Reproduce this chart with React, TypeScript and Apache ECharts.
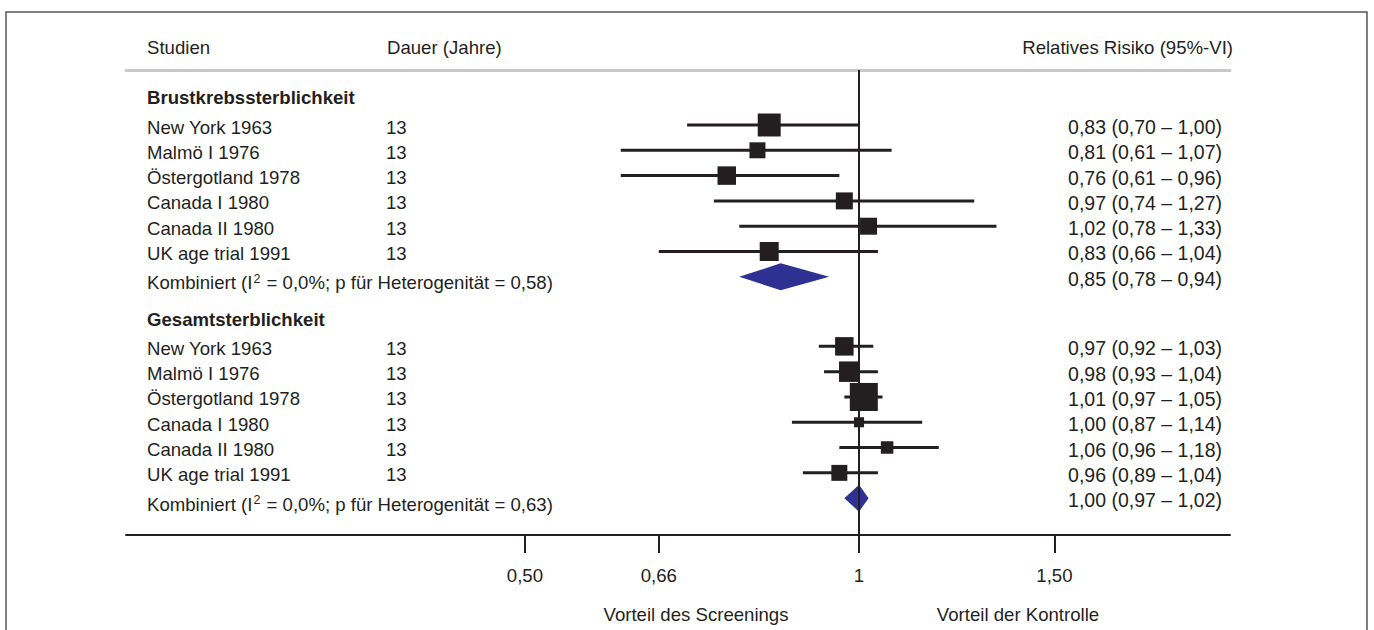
import React, { useEffect, useRef } from "react";
import * as echarts from "echarts";

// ---------- data ----------
const studies = [
  "New York 1963",
  "Malmö I 1976",
  "Östergotland 1978",
  "Canada I 1980",
  "Canada II 1980",
  "UK age trial 1991",
];
const durations = [13, 13, 13, 13, 13, 13];

const sectionTitles = ["Brustkrebssterblichkeit", "Gesamtsterblichkeit"];

const breastRR = [0.83, 0.81, 0.76, 0.97, 1.02, 0.83];
const breastLo = [0.7, 0.61, 0.61, 0.74, 0.78, 0.66];
const breastHi = [1.0, 1.07, 0.96, 1.27, 1.33, 1.04];
const breastWeight = [25.6, 12.4, 16.6, 14.0, 14.0, 17.5];
const breastPooled = [0.85, 0.78, 0.94];
const breastHet = ["0,0%", "0,58"];

const totalRR = [0.97, 0.98, 1.01, 1.0, 1.06, 0.96];
const totalLo = [0.92, 0.93, 0.97, 0.87, 0.96, 0.89];
const totalHi = [1.03, 1.04, 1.05, 1.14, 1.18, 1.04];
const totalWeight = [16.6, 20.4, 38.1, 4.9, 7.6, 12.4];
const totalPooled = [1.0, 0.97, 1.02];
const totalHet = ["0,0%", "0,63"];

const tickValues = [0.5, 0.66, 1, 1.5];
const tickLabels = ["0,50", "0,66", "1", "1,50"];

const headers = ["Studien", "Dauer (Jahre)", "Relatives Risiko (95%-VI)"];
const favourLabels = ["Vorteil des Screenings", "Vorteil der Kontrolle"];

// ---------- layout ----------
const FONT = "'Liberation Sans', Arial, Helvetica, sans-serif";
const FS = 18.6;
const FS_NUM = 19.5;
const INK = "#231f20";
const BLUE = "#2e3192";
const sectionOffset = [0, 8.75];
const X_MIN = 0.21853;
const X_MAX = 2.1591;

const fmt = (v: number) => v.toFixed(2).replace(".", ",");
const ci = (a: number[]) => `${fmt(a[0])} (${fmt(a[1])} – ${fmt(a[2])})`;

const sections = [
  { rr: breastRR, lo: breastLo, hi: breastHi, w: breastWeight, pooled: breastPooled, het: breastHet },
  { rr: totalRR, lo: totalLo, hi: totalHi, w: totalWeight, pooled: totalPooled, het: totalHet },
];

type Row = { y: number; kind: "title" | "study" | "pooled"; name: string; dur?: string; est?: string };
const rows: Row[] = [];
sections.forEach((s, si) => {
  const off = sectionOffset[si];
  rows.push({ y: off - 1.15, kind: "title", name: sectionTitles[si] });
  studies.forEach((st, i) => {
    rows.push({
      y: off + i,
      kind: "study",
      name: st,
      dur: String(durations[i]),
      est: ci([s.rr[i], s.lo[i], s.hi[i]]),
    });
  });
  rows.push({
    y: off + studies.length,
    kind: "pooled",
    name: `Kombiniert (I{sup|2} = ${s.het[0]}; p für Heterogenität = ${s.het[1]})`,
    est: ci(s.pooled),
  });
});

const studyData: number[][] = [];
sections.forEach((s, si) => {
  s.rr.forEach((rr, i) => {
    studyData.push([Math.log(rr), Math.log(s.lo[i]), Math.log(s.hi[i]), sectionOffset[si] + i, s.w[i]]);
  });
});
const pooledData = sections.map((s, si) => [
  Math.log(s.pooled[0]),
  Math.log(s.pooled[1]),
  Math.log(s.pooled[2]),
  sectionOffset[si] + studies.length,
]);

export default function App() {
  const ref = useRef<HTMLDivElement>(null);
  useEffect(() => {
    document.body.style.margin = "0";
    if (!ref.current) return;
    const chart = echarts.init(ref.current, undefined, { renderer: "svg" });
    const tickLn = tickValues.map((v) => Math.log(v));
    const textBase = { fontFamily: FONT, fontSize: FS, fill: INK };

    chart.setOption({
      animation: false,
      backgroundColor: "#ffffff",
      grid: { left: 126, right: 144, top: 70, bottom: 95, containLabel: false },
      xAxis: [
        {
          type: "value",
          position: "bottom",
          min: Math.log(X_MIN),
          max: Math.log(X_MAX),
          splitLine: { show: false },
          axisLine: { show: true, onZero: false, lineStyle: { color: INK, width: 2 } },
          axisTick: { show: true, customValues: tickLn, length: 18, inside: false, lineStyle: { color: INK, width: 2 } },
          axisLabel: {
            customValues: tickLn,
            margin: 31,
            fontSize: FS,
            fontFamily: FONT,
            color: INK,
            formatter: (val: number) => {
              const idx = tickLn.findIndex((t) => Math.abs(t - val) < 1e-6);
              return idx >= 0 ? tickLabels[idx] : "";
            },
          },
        },
        {
          type: "value",
          position: "top",
          min: Math.log(X_MIN),
          max: Math.log(X_MAX),
          splitLine: { show: false },
          axisLine: { show: true, onZero: false, lineStyle: { color: "#c8c8c8", width: 3 } },
          axisTick: { show: false },
          axisLabel: { show: false },
        },
      ],
      yAxis: { type: "value", inverse: true, min: -2.174, max: 16.206, show: false },
      graphic: [
        {
          type: "rect",
          shape: { x: 6, y: 12, width: 1361, height: 640 },
          style: { fill: "none", stroke: "#555555", lineWidth: 1.5 },
          z: 0,
        },
        { type: "text", x: 147, y: 47, style: { ...textBase, text: headers[0], align: "left", verticalAlign: "middle" } },
        { type: "text", x: 387, y: 47, style: { ...textBase, text: headers[1], align: "left", verticalAlign: "middle" } },
        { type: "text", x: 1233, y: 47, style: { ...textBase, text: headers[2], align: "right", verticalAlign: "middle" } },
        { type: "text", x: 696, y: 614, style: { ...textBase, text: favourLabels[0], align: "center", verticalAlign: "middle" } },
        { type: "text", x: 1018, y: 614, style: { ...textBase, text: favourLabels[1], align: "center", verticalAlign: "middle" } },
      ],
      series: [
        {
          type: "line",
          data: [],
          z: 1,
          markLine: {
            silent: true,
            symbol: ["none", "none"],
            label: { show: false },
            lineStyle: { color: INK, width: 2, type: "solid" },
            data: [{ xAxis: 0 }],
          },
        },
        {
          type: "custom",
          z: 3,
          data: studyData,
          encode: { x: [0, 1, 2], y: 3 },
          renderItem: (params: any, api: any) => {
            const y = api.value(3);
            const c = api.coord([api.value(0), y]);
            const lo = api.coord([api.value(1), y]);
            const hi = api.coord([api.value(2), y]);
            const s = 4.54 * Math.sqrt(api.value(4));
            return {
              type: "group",
              children: [
                {
                  type: "line",
                  shape: { x1: lo[0], y1: lo[1], x2: hi[0], y2: hi[1] },
                  style: { stroke: INK, lineWidth: 3 },
                },
                {
                  type: "rect",
                  shape: { x: c[0] - s / 2, y: c[1] - s / 2, width: s, height: s },
                  style: { fill: INK },
                },
              ],
            };
          },
        },
        {
          type: "custom",
          z: 3,
          data: pooledData,
          encode: { x: [0, 1, 2], y: 3 },
          renderItem: (params: any, api: any) => {
            const y = api.value(3);
            const c = api.coord([api.value(0), y]);
            const lo = api.coord([api.value(1), y]);
            const hi = api.coord([api.value(2), y]);
            const h = 13.5;
            return {
              type: "polygon",
              shape: {
                points: [
                  [lo[0], c[1]],
                  [c[0], c[1] - h],
                  [hi[0], c[1]],
                  [c[0], c[1] + h],
                ],
              },
              style: { fill: BLUE },
            };
          },
        },
        {
          type: "custom",
          z: 4,
          data: rows.map((r) => [0, r.y]),
          encode: { x: 0, y: 1 },
          renderItem: (params: any, api: any) => {
            const r = rows[params.dataIndex];
            const p = api.coord([0, api.value(1)]);
            const ty = p[1] + 2;
            const children: any[] = [];
            if (r.kind === "title") {
              children.push({
                type: "text",
                x: 147,
                y: ty,
                style: { ...textBase, fontWeight: "bold", text: r.name, align: "left", verticalAlign: "middle" },
              });
            } else if (r.kind === "study") {
              children.push({
                type: "text",
                x: 147,
                y: ty,
                style: { ...textBase, text: r.name, align: "left", verticalAlign: "middle" },
              });
              children.push({
                type: "text",
                x: 386,
                y: ty,
                style: { ...textBase, text: r.dur, align: "left", verticalAlign: "middle" },
              });
              children.push({
                type: "text",
                x: 1222,
                y: ty,
                style: { ...textBase, fontSize: FS_NUM, text: r.est, align: "right", verticalAlign: "middle" },
              });
            } else {
              children.push({
                type: "text",
                x: 147,
                y: ty + 4,
                style: {
                  ...textBase,
                  text: r.name,
                  align: "left",
                  verticalAlign: "middle",
                  rich: {
                    sup: { fontSize: 12.5, fontFamily: FONT, fill: INK, verticalAlign: "top", padding: [0, 1, 8, 1] },
                  },
                },
              });
              children.push({
                type: "text",
                x: 1222,
                y: ty,
                style: { ...textBase, fontSize: FS_NUM, text: r.est, align: "right", verticalAlign: "middle" },
              });
            }
            return { type: "group", children };
          },
        },
      ],
    });
    return () => chart.dispose();
  }, []);
  return <div ref={ref} style={{ width: 1374, height: 630 }} />;
}
